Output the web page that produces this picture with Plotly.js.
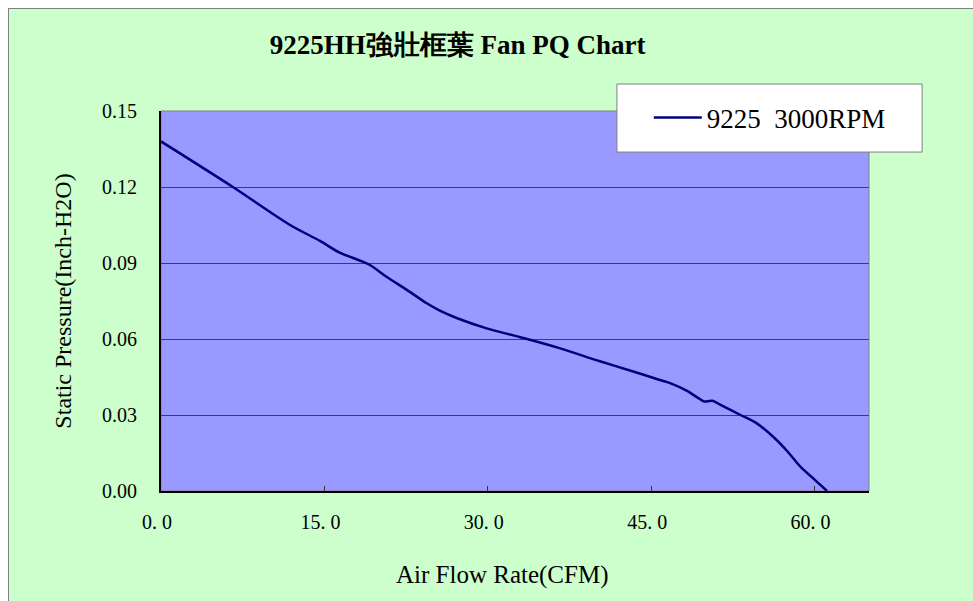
<!DOCTYPE html>
<html>
<head>
<meta charset="utf-8">
<script src="https://cdn.plot.ly/plotly-3.0.1.min.js"></script>
<style>
  html, body { margin: 0; padding: 0; background: #ffffff; width: 973px; height: 601px; overflow: hidden; }
  #chart { position: absolute; left: 8px; top: 8px; width: 964px; height: 592px;
           border-left: 1px solid #808080; border-top: 1px solid #808080; }
</style>
</head>
<body>
<div id="chart"></div>
<script>
// Data
const airflow = [0, 6.6, 11.85, 14.6, 16.4, 19.05, 20.7, 22.6, 24.4, 25.6, 27.2, 29.9, 33.0, 36.5, 40.3, 43.5, 45.8, 46.8, 48.3, 49.5, 49.9, 50.6, 51.5, 53.2, 54.7, 56.2, 57.5, 58.7, 60.0, 61.15];
const pressure = [0.138, 0.120, 0.105, 0.0987, 0.0941, 0.0895, 0.0846, 0.0793, 0.0741, 0.0712, 0.0682, 0.0642, 0.0607, 0.0565, 0.0512, 0.0470, 0.0438, 0.0425, 0.0395, 0.0362, 0.0353, 0.0356, 0.0337, 0.0300, 0.0267, 0.0214, 0.0157, 0.0096, 0.0045, 0.0];
const seriesName = '9225  3000RPM';
const xTickVals = [0, 15, 30, 45, 60];
const xTickText = ['0. 0', '15. 0', '30. 0', '45. 0', '60. 0'];
const yTickVals = [0, 0.03, 0.06, 0.09, 0.12, 0.15];
const yTickText = ['0.00', '0.03', '0.06', '0.09', '0.12', '0.15'];
const xTitle = 'Air Flow Rate(CFM)';
const yTitle = 'Static Pressure(Inch-H2O)';

const serif = 'Liberation Serif, Times New Roman, serif';

const trace = {
  x: airflow, y: pressure, name: seriesName,
  type: 'scatter', mode: 'lines',
  line: { color: '#000080', width: 2.5, shape: 'spline', smoothing: 0.9 },
  showlegend: true
};

const layout = {
  width: 964, height: 592,
  paper_bgcolor: '#CCFFCC',
  plot_bgcolor: '#9999FF',
  margin: { l: 152, r: 104, t: 102, b: 110, pad: 0 },
  font: { family: serif, color: '#000000' },
  title: {
    text: '<b>9225HH強壯框葉 Fan PQ Chart</b>',
    font: { family: serif, size: 27, color: '#000000' },
    x: 0.419, xref: 'paper', xanchor: 'center',
    y: 0.94, yref: 'container', yanchor: 'middle'
  },
  xaxis: {
    range: [0, 65], fixedrange: true,
    tickvals: xTickVals, ticktext: xTickText,
    ticks: 'inside', ticklen: 5, tickcolor: '#333333', tickwidth: 1,
    tickfont: { family: serif, size: 20 },
    ticklabelstandoff: 12, ticklabelshift: -4,
    showgrid: false, zeroline: false,
    showline: true, linecolor: '#000000', linewidth: 2
  },
  yaxis: {
    range: [0, 0.15], fixedrange: true,
    tickvals: yTickVals, ticktext: yTickText,
    ticks: '', tickfont: { family: serif, size: 20 },
    ticklabelstandoff: 18,
    showgrid: true, gridcolor: '#404040', gridwidth: 1,
    zeroline: false,
    showline: true, linecolor: '#000000', linewidth: 2,
    title: { text: yTitle, font: { family: serif, size: 24 }, standoff: 24 }
  },
  annotations: [
    { text: xTitle, xref: 'paper', yref: 'paper', x: 0.482, y: -0.221,
      xanchor: 'center', yanchor: 'middle', showarrow: false,
      font: { family: serif, size: 25, color: '#000000' } }
  ],
  showlegend: true,
  legend: {
    x: 0.689, y: 0.982, xanchor: 'left', yanchor: 'middle',
    itemwidth: 48,
    bgcolor: 'rgba(0,0,0,0)', borderwidth: 0,
    font: { family: serif, size: 27, color: '#000000' }
  },
  shapes: [
    { type: 'rect', xref: 'paper', yref: 'paper', x0: 0, x1: 1, y0: 0, y1: 1,
      line: { color: '#808080', width: 1 }, fillcolor: 'rgba(0,0,0,0)', layer: 'below' },
    { type: 'rect', xref: 'paper', yref: 'paper', x0: 0.644, x1: 1.075, y0: 0.892, y1: 1.071,
      line: { color: '#808080', width: 1 }, fillcolor: '#FFFFFF', layer: 'above' }
  ]
};

Plotly.newPlot('chart', [trace], layout, { displayModeBar: false, staticPlot: true });
</script>
</body>
</html>
